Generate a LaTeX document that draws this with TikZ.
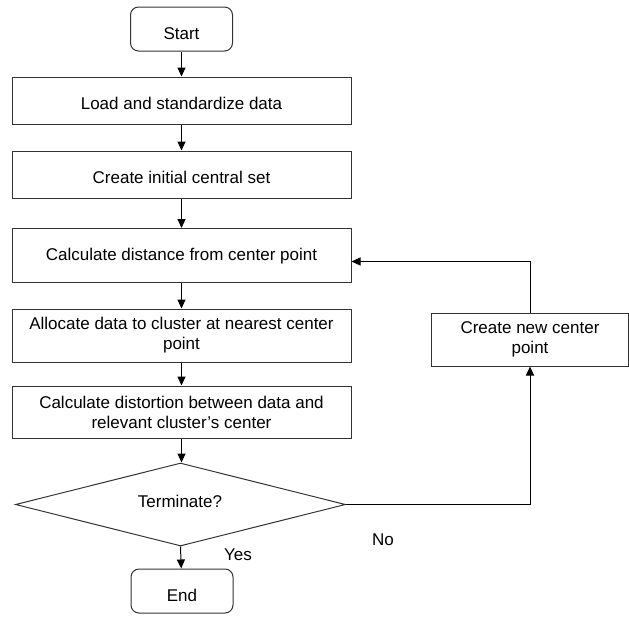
\documentclass[tikz,border=0pt]{standalone}
\usepackage{fontspec}
\setmainfont{Liberation Sans}
\usetikzlibrary{shapes.geometric,arrows.meta}
\newcommand{\dn}[2]{\raisebox{-#1pt}[\height][\depth]{#2}}
\begin{document}
\begin{tikzpicture}[x=1pt,y=-1pt,
  every node/.style={font=\fontsize{17}{20}\selectfont, inner sep=0pt},
  box/.style={draw=black!80, line width=1pt, minimum width=339pt, align=center},
  term/.style={draw=black!80, line width=1pt, rounded corners=8pt, minimum width=102pt, minimum height=44pt},
  decision/.style={draw=black!80, line width=1pt, diamond, minimum width=330pt, minimum height=83pt},
  arr/.style={line width=1pt, -{Triangle[length=9pt,width=8pt]}},
  lbl/.style={}
]
\useasboundingbox (0,0) rectangle (629,616);
\node[term] (start) at (181.5,29) {\dn{5}{Start}};
\node[box, minimum height=47pt] (b1) at (181.5,100.5) {\dn{3}{Load and standardize data}};
\node[box, minimum height=47pt] (b2) at (181.5,174.5) {\dn{3}{Create initial central set}};
\node[box, minimum height=54pt] (b3) at (181.5,255.5) {\dn{1}{Calculate distance from center point}};
\node[box, minimum height=53pt] (b4) at (181.5,335.5) {Allocate data to cluster at nearest center\\point};
\node[box, minimum height=52pt] (b5) at (181.5,412) {Calculate distortion between data and\\relevant cluster’s center};
\node[decision] (d) at (180.5,504.5) {};
\node (dt) at (180,499) {\dn{2}{Terminate?}};
\node[term] (end) at (182,591) {\dn{4}{End}};
\node[draw=black!80, line width=1pt, minimum width=197pt, minimum height=53pt, align=center] (nc) at (530,339.5) {Create new center\\point};
\node[lbl] (yes) at (238,553) {\dn{2}{Yes}};
\node[lbl] (no) at (383,538) {\dn{2}{No}};
\draw[arr] (start) -- (b1);
\draw[arr] (b1) -- (b2);
\draw[arr] (b2) -- (b3);
\draw[arr] (b3) -- (b4);
\draw[arr] (b4) -- (b5);
\draw[arr] (b5.south) -- (d.north -| b5.south);
\draw[arr] (d.south) -- (end);
\draw[arr] (d.east) -| (nc.south);
\draw[arr] (nc.north) |- ([yshift=-6pt]b3.east);
\end{tikzpicture}
\end{document}
